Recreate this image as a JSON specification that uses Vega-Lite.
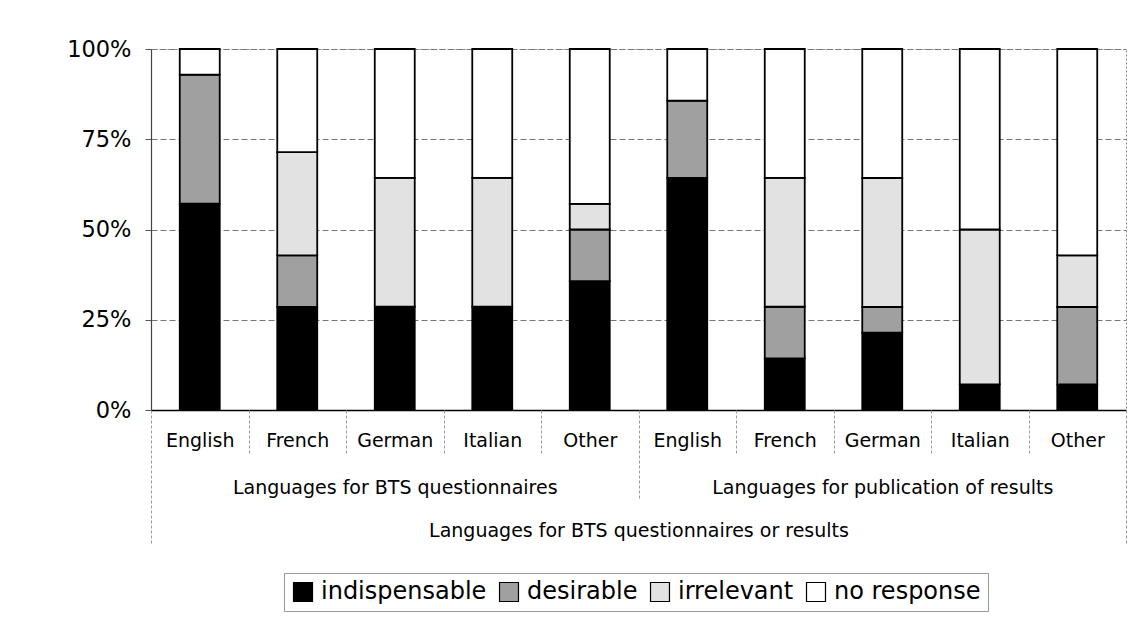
{
  "$schema": "https://vega.github.io/schema/vega-lite/v6.json",
  "autosize": "none",
  "width": 975,
  "height": 361,
  "padding": {"left": 151, "top": 49, "right": 10, "bottom": 217},
  "background": "white",
  "config": {
    "font": "DejaVu Sans",
    "view": {"stroke": "#888888", "strokeDash": [2, 2], "strokeWidth": 1},
    "axis": {"labelFont": "DejaVu Sans", "titleFont": "DejaVu Sans", "labelColor": "black", "titleColor": "black"}
  },
  "data": {
    "values": [
      {"group": "Languages for BTS questionnaires", "cat": "Q-English", "status": "indispensable", "rank": 1, "pct": 57.1},
      {"group": "Languages for BTS questionnaires", "cat": "Q-English", "status": "desirable", "rank": 2, "pct": 35.7},
      {"group": "Languages for BTS questionnaires", "cat": "Q-English", "status": "irrelevant", "rank": 3, "pct": 0},
      {"group": "Languages for BTS questionnaires", "cat": "Q-English", "status": "no response", "rank": 4, "pct": 7.1},
      {"group": "Languages for BTS questionnaires", "cat": "Q-French", "status": "indispensable", "rank": 1, "pct": 28.6},
      {"group": "Languages for BTS questionnaires", "cat": "Q-French", "status": "desirable", "rank": 2, "pct": 14.3},
      {"group": "Languages for BTS questionnaires", "cat": "Q-French", "status": "irrelevant", "rank": 3, "pct": 28.6},
      {"group": "Languages for BTS questionnaires", "cat": "Q-French", "status": "no response", "rank": 4, "pct": 28.6},
      {"group": "Languages for BTS questionnaires", "cat": "Q-German", "status": "indispensable", "rank": 1, "pct": 28.6},
      {"group": "Languages for BTS questionnaires", "cat": "Q-German", "status": "desirable", "rank": 2, "pct": 0},
      {"group": "Languages for BTS questionnaires", "cat": "Q-German", "status": "irrelevant", "rank": 3, "pct": 35.7},
      {"group": "Languages for BTS questionnaires", "cat": "Q-German", "status": "no response", "rank": 4, "pct": 35.7},
      {"group": "Languages for BTS questionnaires", "cat": "Q-Italian", "status": "indispensable", "rank": 1, "pct": 28.6},
      {"group": "Languages for BTS questionnaires", "cat": "Q-Italian", "status": "desirable", "rank": 2, "pct": 0},
      {"group": "Languages for BTS questionnaires", "cat": "Q-Italian", "status": "irrelevant", "rank": 3, "pct": 35.7},
      {"group": "Languages for BTS questionnaires", "cat": "Q-Italian", "status": "no response", "rank": 4, "pct": 35.7},
      {"group": "Languages for BTS questionnaires", "cat": "Q-Other", "status": "indispensable", "rank": 1, "pct": 35.7},
      {"group": "Languages for BTS questionnaires", "cat": "Q-Other", "status": "desirable", "rank": 2, "pct": 14.3},
      {"group": "Languages for BTS questionnaires", "cat": "Q-Other", "status": "irrelevant", "rank": 3, "pct": 7.1},
      {"group": "Languages for BTS questionnaires", "cat": "Q-Other", "status": "no response", "rank": 4, "pct": 42.9},
      {"group": "Languages for publication of results", "cat": "P-English", "status": "indispensable", "rank": 1, "pct": 64.3},
      {"group": "Languages for publication of results", "cat": "P-English", "status": "desirable", "rank": 2, "pct": 21.4},
      {"group": "Languages for publication of results", "cat": "P-English", "status": "irrelevant", "rank": 3, "pct": 0},
      {"group": "Languages for publication of results", "cat": "P-English", "status": "no response", "rank": 4, "pct": 14.3},
      {"group": "Languages for publication of results", "cat": "P-French", "status": "indispensable", "rank": 1, "pct": 14.3},
      {"group": "Languages for publication of results", "cat": "P-French", "status": "desirable", "rank": 2, "pct": 14.3},
      {"group": "Languages for publication of results", "cat": "P-French", "status": "irrelevant", "rank": 3, "pct": 35.7},
      {"group": "Languages for publication of results", "cat": "P-French", "status": "no response", "rank": 4, "pct": 35.7},
      {"group": "Languages for publication of results", "cat": "P-German", "status": "indispensable", "rank": 1, "pct": 21.4},
      {"group": "Languages for publication of results", "cat": "P-German", "status": "desirable", "rank": 2, "pct": 7.1},
      {"group": "Languages for publication of results", "cat": "P-German", "status": "irrelevant", "rank": 3, "pct": 35.7},
      {"group": "Languages for publication of results", "cat": "P-German", "status": "no response", "rank": 4, "pct": 35.7},
      {"group": "Languages for publication of results", "cat": "P-Italian", "status": "indispensable", "rank": 1, "pct": 7.1},
      {"group": "Languages for publication of results", "cat": "P-Italian", "status": "desirable", "rank": 2, "pct": 0},
      {"group": "Languages for publication of results", "cat": "P-Italian", "status": "irrelevant", "rank": 3, "pct": 42.9},
      {"group": "Languages for publication of results", "cat": "P-Italian", "status": "no response", "rank": 4, "pct": 50},
      {"group": "Languages for publication of results", "cat": "P-Other", "status": "indispensable", "rank": 1, "pct": 7.1},
      {"group": "Languages for publication of results", "cat": "P-Other", "status": "desirable", "rank": 2, "pct": 21.4},
      {"group": "Languages for publication of results", "cat": "P-Other", "status": "irrelevant", "rank": 3, "pct": 14.3},
      {"group": "Languages for publication of results", "cat": "P-Other", "status": "no response", "rank": 4, "pct": 57.1}
    ]
  },
  "resolve": {"scale": {"x": "independent"}, "axis": {"x": "independent"}},
  "layer": [
    {
      "mark": {"type": "bar", "stroke": "black", "strokeWidth": 1.8},
      "encoding": {
        "x": {
          "field": "cat", "type": "nominal", "sort": null,
          "scale": {"paddingInner": 0.59, "paddingOuter": 0.295},
          "axis": {
            "orient": "bottom", "title": null, "labels": false, "ticks": false,
            "domainColor": "black", "domainWidth": 1.5
          }
        },
        "y": {
          "field": "pct", "type": "quantitative", "stack": "normalize",
          "scale": {"domain": [0, 1]},
          "axis": {
            "title": null, "values": [0, 0.25, 0.5, 0.75, 1], "format": ".0%",
            "labelFontSize": 22.5, "labelPadding": 14, "tickSize": 6, "tickColor": "#555555",
            "domainColor": "#444444", "domainWidth": 1.2,
            "grid": true, "gridColor": "#777777", "gridDash": [6, 3], "gridWidth": 1
          }
        },
        "order": {"field": "rank", "type": "quantitative", "sort": "ascending"},
        "color": {
          "field": "status", "type": "nominal",
          "scale": {
            "domain": ["indispensable", "desirable", "irrelevant", "no response"],
            "range": ["#000000", "#a0a0a0", "#e2e2e2", "#ffffff"]
          },
          "legend": {
            "orient": "none", "legendX": 133, "legendY": 524,
            "direction": "horizontal", "columns": 4, "title": null,
            "symbolType": "square", "symbolSize": 360, "symbolStrokeColor": "black", "symbolStrokeWidth": 1.2,
            "symbolOpacity": 1,
            "labelFontSize": 24, "labelColor": "black", "labelFont": "DejaVu Sans", "labelLimit": 0,
            "labelOffset": 6, "columnPadding": 10,
            "strokeColor": "#999999", "padding": 7
          }
        }
      }
    },
    {
      "mark": {"type": "rule", "strokeOpacity": 0},
      "encoding": {
        "x": {
          "field": "cat", "type": "nominal", "sort": null,
          "scale": {"paddingInner": 0, "paddingOuter": 0},
          "axis": {
            "orient": "bottom", "offset": 0, "title": null, "domain": false,
            "labelExpr": "split(datum.label, '-')[1]",
            "labelAngle": 0, "labelFontSize": 19, "labelPadding": -24, "labelOverlap": false, "labelLimit": 0,
            "ticks": true, "tickBand": "extent", "tickSize": 45, "tickColor": "#9a9a9a", "tickDash": [3, 2], "tickWidth": 1
          }
        }
      }
    },
    {
      "mark": {"type": "rule", "strokeOpacity": 0},
      "encoding": {
        "x": {
          "field": "group", "type": "nominal", "sort": null,
          "scale": {"paddingInner": 0, "paddingOuter": 0},
          "axis": {
            "orient": "bottom", "offset": 45, "title": null, "domain": false,
            "labelAngle": 0, "labelFontSize": 19, "labelPadding": -22, "labelOverlap": false, "labelLimit": 0,
            "ticks": true, "tickBand": "extent", "tickSize": 45, "tickColor": "#9a9a9a", "tickDash": [3, 2], "tickWidth": 1
          }
        }
      }
    },
    {
      "mark": {"type": "rule", "strokeOpacity": 0},
      "encoding": {
        "x": {
          "datum": "all", "type": "nominal",
          "scale": {"paddingInner": 0, "paddingOuter": 0},
          "axis": {
            "orient": "bottom", "offset": 90, "domain": false, "labels": false,
            "ticks": true, "tickBand": "extent", "tickSize": 45, "tickColor": "#9a9a9a", "tickDash": [3, 2], "tickWidth": 1,
            "title": "Languages for BTS questionnaires or results",
            "titleFontSize": 19, "titleFontWeight": "normal", "titleY": 21, "titleBaseline": "top", "titleLimit": 0
          }
        }
      }
    }
  ]
}
